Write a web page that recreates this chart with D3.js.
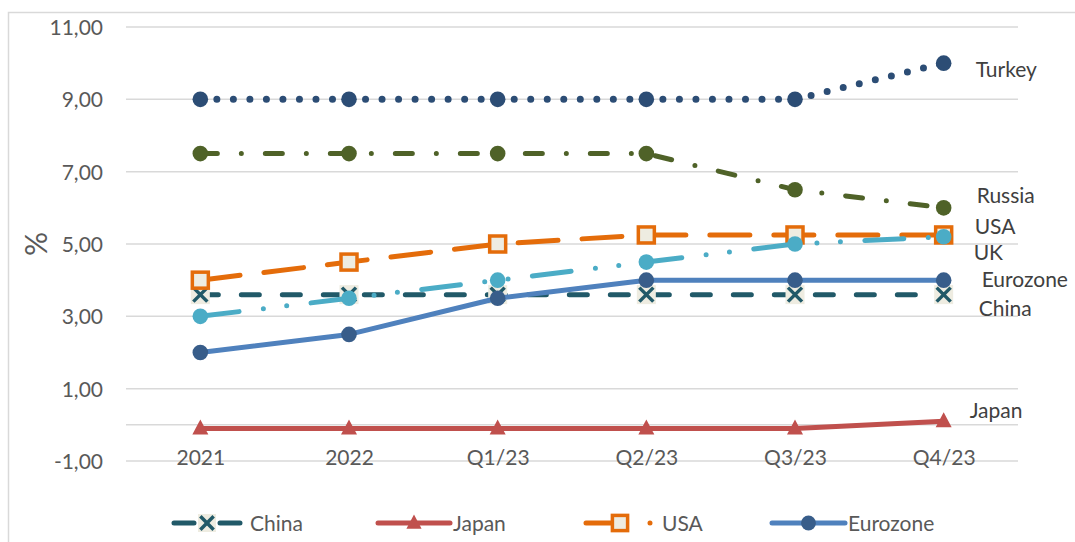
<!DOCTYPE html>
<html>
<head>
<meta charset="utf-8">
<script src="https://cdn.jsdelivr.net/npm/d3@7"></script>
<style>
  html, body { margin: 0; padding: 0; background: #ffffff; }
  svg { display: block; font-family: "Lato", "Open Sans", sans-serif; }
</style>
</head>
<body>
<svg id="chart" width="1075" height="542"></svg>
<script>
// Policy interest rates by period (%)
const categories = ["2021", "2022", "Q1/23", "Q2/23", "Q3/23", "Q4/23"];
const china    = [3.6, 3.6, 3.6, 3.6, 3.6, 3.6];
const japan    = [-0.1, -0.1, -0.1, -0.1, -0.1, 0.1];
const usa      = [4.0, 4.5, 5.0, 5.25, 5.25, 5.25];
const eurozone = [2.0, 2.5, 3.5, 4.0, 4.0, 4.0];
const turkey   = [9.0, 9.0, 9.0, 9.0, 9.0, 10.0];
const russia   = [7.5, 7.5, 7.5, 7.5, 6.5, 6.0];
const uk       = [3.0, 3.5, 4.0, 4.5, 5.0, 5.2];
const yTicks   = [-1, 1, 3, 5, 7, 9, 11];
const legendNames = ["China", "Japan", "USA", "Eurozone"];

// Series styling, drawn in this order (later on top)
const series = [
  { name: "China",    values: china,    color: "#215968", width: 5, dash: "18 23", marker: "x",        fill: "#eeece1", lx: 35, ly: 21, legendDash: "20 26 20" },
  { name: "Japan",    values: japan,    color: "#c0504d", width: 5, dash: null,    marker: "triangle", fill: "#c0504d", lx: 26, ly: -3 },
  { name: "USA",      values: usa,      color: "#e46c0a", width: 5, dash: "40 24", marker: "square",   fill: "#eeece1", lx: 31, ly: -1, legendDash: "27 37 0 100" },
  { name: "Eurozone", values: eurozone, color: "#4f81bd", width: 5, dash: null,    marker: "circle",   fill: "#385d8a", lx: 38, ly: 7 },
  { name: "Turkey",   values: turkey,   color: "#2c4d75", width: 7, dash: "0 16.52", marker: "circle", fill: "#2c4d75", lx: 32, ly: 14 },
  { name: "Russia",   values: russia,   color: "#4f6228", width: 5, dash: "17 24 0 24", marker: "circle", fill: "#4f6228", lx: 33, ly: -5 },
  { name: "UK",       values: uk,       color: "#4bacc6", width: 5, dash: "39 24.5 0 23.5 0 24.5", marker: "circle", fill: "#4bacc6", lx: 30, ly: 23 }
];

const svg = d3.select("#chart");
const plot = { left: 126, right: 1018, top: 27, bottom: 461 };

const x = d3.scalePoint().domain(categories).range([plot.left, plot.right]).padding(0.5);
const y = d3.scaleLinear().domain([-1, 11]).range([plot.bottom, plot.top]);

const locale = d3.formatLocale({ decimal: ",", thousands: ".", grouping: [3], currency: ["", "€"], minus: "-" });
const fmt = locale.format(".2f");

// Chart frame (top and left edges)
svg.append("path")
  .attr("d", "M8.5,542 V12.5 H1075")
  .attr("fill", "none").attr("stroke", "#d9d9d9").attr("stroke-width", 1.5);

// Gridlines
svg.append("g")
  .selectAll("line").data(yTicks).join("line")
  .attr("x1", plot.left).attr("x2", plot.right)
  .attr("y1", d => y(d)).attr("y2", d => y(d))
  .attr("stroke", "#d9d9d9").attr("stroke-width", 1.5);

// Horizontal category axis at zero
svg.append("line")
  .attr("x1", plot.left).attr("x2", plot.right)
  .attr("y1", y(0)).attr("y2", y(0))
  .attr("stroke", "#d9d9d9").attr("stroke-width", 1.5);

// Y tick labels
const yAxis = d3.axisLeft(y).tickValues(yTicks).tickFormat(fmt).tickSize(0).tickPadding(0);
const gy = svg.append("g").attr("transform", `translate(${plot.left - 23},0)`).call(yAxis);
gy.select(".domain").remove();
gy.selectAll("text")
  .attr("font-family", "Lato, sans-serif").attr("font-size", 21)
  .attr("fill", "#595959").attr("dy", "0.36em");

// X tick labels
const xAxis = d3.axisBottom(x).tickSize(0).tickPadding(0);
const gx = svg.append("g").attr("transform", `translate(0,${y(-1)})`).call(xAxis);
gx.select(".domain").remove();
gx.selectAll("text")
  .attr("font-family", "Lato, sans-serif").attr("font-size", 21)
  .attr("fill", "#595959").attr("y", 0).attr("dy", "4px")
  .attr("dominant-baseline", "auto");

// Axis title
svg.append("text")
  .attr("transform", "translate(47,244) rotate(-90)")
  .attr("text-anchor", "middle")
  .attr("font-family", "Lato, sans-serif").attr("font-size", 30)
  .attr("fill", "#595959").text("%");

function drawMarker(g, s, size) {
  const k = size || 1;
  if (s.marker === "circle") {
    g.append("circle").attr("r", 7.8 * k).attr("fill", s.fill);
  } else if (s.marker === "square") {
    g.append("rect").attr("x", -8 * k).attr("y", -8 * k).attr("width", 16 * k).attr("height", 16 * k)
      .attr("fill", s.fill).attr("stroke", s.color).attr("stroke-width", 3.5);
  } else if (s.marker === "triangle") {
    g.append("path").attr("d", `M0,${-9 * k} L${8 * k},${6 * k} L${-8 * k},${6 * k} Z`).attr("fill", s.fill);
  } else if (s.marker === "x") {
    g.append("rect").attr("x", -9.5 * k).attr("y", -9.5 * k).attr("width", 19 * k).attr("height", 19 * k).attr("fill", s.fill);
    g.append("path").attr("d", `M${-7 * k},${-7 * k} L${7 * k},${7 * k} M${7 * k},${-7 * k} L${-7 * k},${7 * k}`)
      .attr("stroke", s.color).attr("stroke-width", 3.5).attr("fill", "none");
  }
}

const line = d3.line().x((d, i) => x(categories[i])).y(d => y(d));

series.forEach(s => {
  const g = svg.append("g").attr("class", "series");
  g.append("path")
    .attr("d", line(s.values))
    .attr("fill", "none")
    .attr("stroke", s.color)
    .attr("stroke-width", s.width)
    .attr("stroke-linecap", "round")
    .attr("stroke-linejoin", "round")
    .attr("stroke-dasharray", s.dash);
  s.values.forEach((v, i) => {
    const m = g.append("g").attr("transform", `translate(${x(categories[i])},${y(v)})`);
    drawMarker(m, s);
  });
});

// End-of-line labels
series.forEach(s => {
  const last = s.values.length - 1;
  svg.append("text")
    .attr("x", x(categories[last]) + s.lx)
    .attr("y", y(s.values[last]) + s.ly)
    .attr("font-family", "Lato, sans-serif").attr("font-size", 21)
    .attr("fill", "#404040").text(s.name);
});

// Legend
const legendX = [174, 378, 586, 772];
const legendW = [66, 72, 66, 73];
const legendY = 523;
legendNames.forEach((name, i) => {
  const s = series.find(d => d.name === name);
  const g = svg.append("g");
  const x0 = legendX[i], x1 = legendX[i] + legendW[i];
  g.append("line")
    .attr("x1", x0).attr("x2", x1).attr("y1", legendY).attr("y2", legendY)
    .attr("stroke", s.color).attr("stroke-width", s.width)
    .attr("stroke-linecap", "round")
    .attr("stroke-dasharray", s.legendDash || null);
  const mx = name === "USA" ? x0 + 34 : (x0 + x1) / 2;
  const m = g.append("g").attr("transform", `translate(${mx},${legendY})`);
  drawMarker(m, s, 0.95);
  g.append("text")
    .attr("x", x1 + (name === "USA" ? 10 : name === "China" ? 10 : 3)).attr("y", legendY + 8)
    .attr("font-family", "Lato, sans-serif").attr("font-size", 21)
    .attr("fill", "#595959").text(name);
});
</script>
</body>
</html>
